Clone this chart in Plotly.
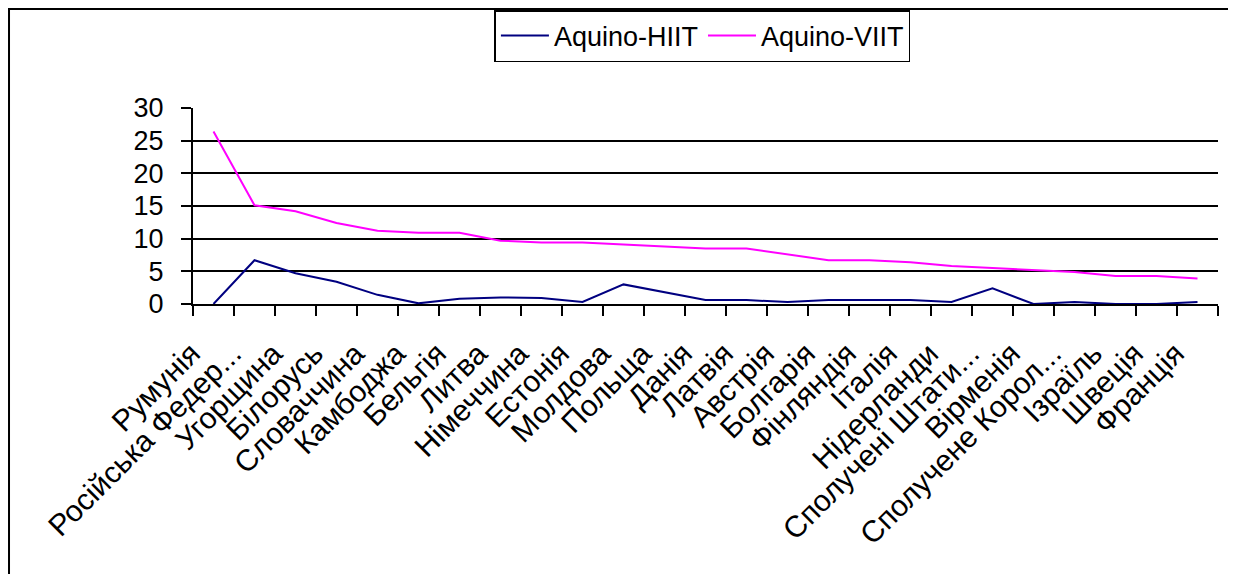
import plotly.graph_objects as go

# країни (категорії осі X)
countries = ["Румунія", "Російська Федер...", "Угорщина", "Білорусь", "Словаччина",
             "Камбоджа", "Бельгія", "Литва", "Німеччина", "Естонія", "Молдова",
             "Польща", "Данія", "Латвія", "Австрія", "Болгарія", "Фінляндія",
             "Італія", "Нідерланди", "Сполучені Штати...", "Вірменія",
             "Сполучене Корол...", "Ізраїль", "Швеція", "Франція"]

hiit = [0, 6.7, 4.7, 3.4, 1.4, 0.1, 0.8, 1.0, 0.9, 0.3, 3.0, 1.8, 0.6,
        0.6, 0.3, 0.6, 0.6, 0.6, 0.3, 2.4, 0, 0.3, 0, 0, 0.3]
viit = [26.4, 15.1, 14.2, 12.4, 11.2, 10.9, 10.9, 9.7, 9.4, 9.4, 9.1, 8.8, 8.5,
        8.5, 7.6, 6.7, 6.7, 6.4, 5.8, 5.5, 5.2, 4.9, 4.3, 4.3, 3.9]

y_ticks = [0, 5, 10, 15, 20, 25, 30]

FONT = "Liberation Sans, Arial, sans-serif"

fig = go.Figure()
fig.add_trace(go.Scatter(x=countries, y=hiit, mode="lines", name="Aquino-HIIT",
                         line=dict(color="#000080", width=2)))
fig.add_trace(go.Scatter(x=countries, y=viit, mode="lines", name="Aquino-VIIT",
                         line=dict(color="#FF00FF", width=2)))

# сторінка має відступ 8px, тому фігура трохи менша за вікно
fig.update_layout(
    width=1228, height=566,
    margin=dict(l=185, r=18, t=100, b=270, autoexpand=False),
    paper_bgcolor="white", plot_bgcolor="white",
    font=dict(family=FONT, size=27, color="black"),
    showlegend=True,
    legend=dict(orientation="h", x=0.497, xanchor="center", y=1.5, yanchor="top",
                bordercolor="black", borderwidth=1.5, bgcolor="white",
                font=dict(size=27), itemwidth=48),
)

fig.update_xaxes(
    type="category", range=[-0.5, len(countries) - 0.5],
    showline=True, linecolor="black", linewidth=2,
    ticks="outside", ticklen=10, tickwidth=2, tickcolor="black",
    tickson="boundaries", tickangle=-45, showgrid=False,
    tickfont=dict(size=30), ticklabelstandoff=18, ticklabelshift=-22,
    automargin=False,
)
fig.update_yaxes(
    range=[0, 30], tickvals=y_ticks,
    showline=True, linecolor="black", linewidth=2,
    ticks="outside", ticklen=10, tickwidth=2, tickcolor="black",
    showgrid=True, gridcolor="black", gridwidth=2, zeroline=False,
    ticklabelstandoff=12, tickfont=dict(size=27), automargin=False,
)

# рамка навколо всієї діаграми
fig.add_shape(type="rect", xref="paper", yref="paper",
              x0=-0.1795, x1=1.0146, y0=-1.5, y1=1.505,
              line=dict(color="black", width=2), layer="below")

fig.write_html("out.html")
